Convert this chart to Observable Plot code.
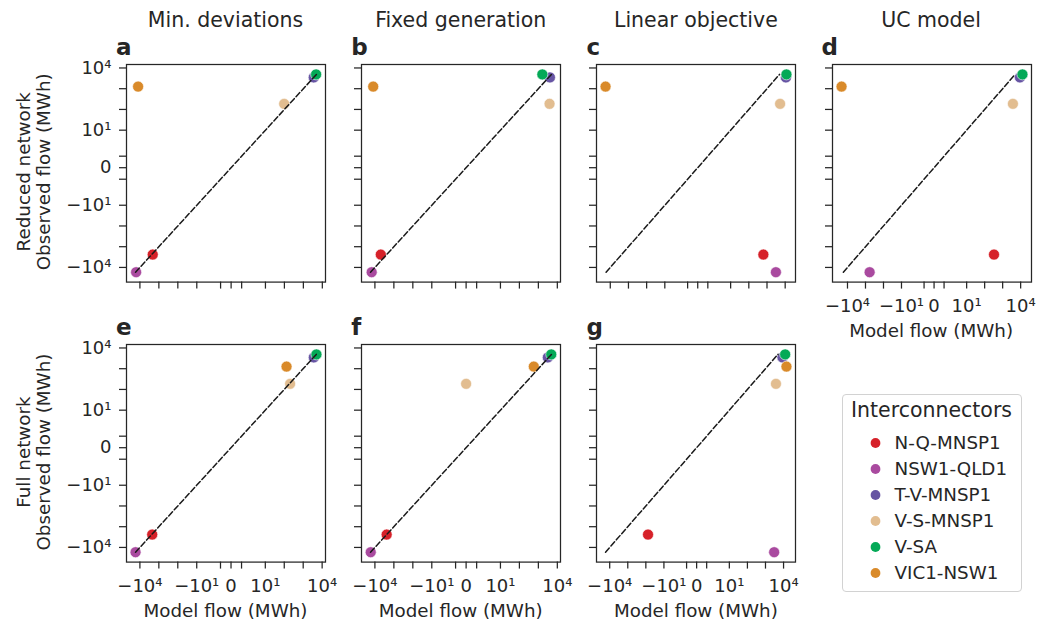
<!DOCTYPE html>
<html>
<head>
<meta charset="utf-8">
<script src="https://cdn.jsdelivr.net/npm/d3@7"></script>
<script src="https://cdn.jsdelivr.net/npm/@observablehq/plot@0.6"></script>
<style>
  body { margin: 0; background: #fff; }
  #root { position: relative; width: 1046px; height: 627px; overflow: hidden; font-family: "DejaVu Sans", sans-serif; color: #262626; background: #fff; }
  .panel { position: absolute; }
  .panel svg { max-width: none !important; }
  #root g[aria-label^="x-axis"] line, #root g[aria-label^="x-axis"] path,
  #root g[aria-label^="y-axis"] line, #root g[aria-label^="y-axis"] path { stroke-width: 1.25px; }
  #legendBox { position: absolute; box-sizing: border-box; border: 1.5px solid #d2d2d2; border-radius: 4px; background: #fff; }
</style>
</head>
<body>
<div id="root"></div>
<script>
// ---------------- data ----------------
const interconnectors = ["N-Q-MNSP1", "NSW1-QLD1", "T-V-MNSP1", "V-S-MNSP1", "V-SA", "VIC1-NSW1"];
const colors = ["#d62129", "#a94a9f", "#6654a3", "#e2bd90", "#04a957", "#d98a2a"];

// observed flow (MWh), same for every panel
const observedFlow = [-2400, -16980, 3510, 186, 4900, 1260];

// model flow (MWh) per panel
const modelMinDevReduced   = [-2110, -15850, 3520, 97, 4710, -12450];   // a
const modelFixedGenReduced = [-4900, -14790, 4070, 3890, 1620, -12300]; // b
const modelLinObjReduced   = [631, 3090, 10970, 5250, 11750, -18200];   // c
const modelUCReduced       = [331, -589, 9120, 3716, 12590, -21380];    // d
const modelMinDevFull      = [-2240, -16980, 3630, 204, 5010, 132];     // e
const modelFixedGenFull    = [-2400, -16600, 3160, 0, 4790, 575];       // f
const modelLinObjFull      = [-75.8, 3020, 8710, 3800, 12300, 14460];   // g

const columnTitles = ["Min. deviations", "Fixed generation", "Linear objective", "UC model"];
const rowLabels = ["Reduced network", "Full network"];
const panelLetters = ["a", "b", "c", "d", "e", "f", "g"];
const tickValues = [-1e4, -1e3, -1e2, -1e1, -1, 0, 1, 1e1, 1e2, 1e3, 1e4];
const tickLabels = ["−10⁴", "", "", "−10¹", "", "0", "", "10¹", "", "", "10⁴"];

// ---------------- layout ----------------
const FW = 199, FH = 217.6;
const colLefts = [126, 361.2, 596.4, 831.6];
const rowTops = [64, 344.3];
const ML = 70, MR = 12, MT = 12, MB = 60;

const panels = [
  {model: modelMinDevReduced,   row: 0, col: 0, xLabels: false},
  {model: modelFixedGenReduced, row: 0, col: 1, xLabels: false},
  {model: modelLinObjReduced,   row: 0, col: 2, xLabels: false},
  {model: modelUCReduced,       row: 0, col: 3, xLabels: true},
  {model: modelMinDevFull,      row: 1, col: 0, xLabels: true},
  {model: modelFixedGenFull,    row: 1, col: 1, xLabels: true},
  {model: modelLinObjFull,      row: 1, col: 2, xLabels: true}
];

// symmetric log transform (linthresh 2, linscale 1)
const LT = 2, LS = 1 / (1 - 1 / 10);
function T(v) {
  const a = Math.abs(v);
  return a <= LT ? v * LS / LT : Math.sign(v) * (LS + Math.log10(a / LT));
}
const tickT = tickValues.map(T);
const labelFor = (t) => {
  const i = tickT.findIndex(v => Math.abs(v - t) < 1e-6);
  return i >= 0 ? tickLabels[i] : "";
};
const pad = ([a, b]) => { const p = 0.05 * (b - a); return [a - p, b + p]; };

const lo = d3.min(observedFlow), hi = d3.max(observedFlow);
const yDomain = pad([T(lo), T(hi)]);

const root = document.getElementById("root");

panels.forEach((p, k) => {
  const rows = interconnectors.map((name, i) => ({name, model: p.model[i], observed: observedFlow[i]}));
  const xs = p.model.map(T).concat([T(lo), T(hi)]);
  const xDomain = pad([d3.min(xs), d3.max(xs)]);
  const chart = Plot.plot({
    width: FW + ML + MR,
    height: FH + MT + MB,
    marginLeft: ML, marginRight: MR, marginTop: MT, marginBottom: MB,
    style: {fontFamily: "DejaVu Sans", fontSize: "18px", color: "#262626", background: "transparent", overflow: "visible"},
    x: {type: "linear", domain: xDomain, ticks: tickT, tickSize: 7, tickPadding: 10,
        tickFormat: p.xLabels ? labelFor : () => "", label: null},
    y: {type: "linear", domain: yDomain, ticks: tickT, tickSize: 7, tickPadding: 8,
        tickFormat: p.col === 0 ? labelFor : () => "", label: null},
    color: {domain: interconnectors, range: colors},
    marks: [
      Plot.dot(rows, {x: d => T(d.model), y: d => T(d.observed), fill: d => d.name, r: 5.5, stroke: "white", strokeWidth: 0.6}),
      Plot.line([lo, hi], {x: d => T(d), y: d => T(d), stroke: "#1a1a1a", strokeWidth: 1.5, strokeDasharray: "5.6,2.6"}),
      Plot.frame({stroke: "#262626", strokeWidth: 1.25})
    ]
  });
  const div = document.createElement("div");
  div.className = "panel";
  div.style.left = (colLefts[p.col] - ML) + "px";
  div.style.top = (rowTops[p.row] - MT) + "px";
  div.style.width = (FW + ML + MR) + "px";
  div.appendChild(chart);
  root.appendChild(div);
});

// ---------------- legend ----------------
const legendBox = document.createElement("div");
legendBox.id = "legendBox";
legendBox.style.left = "842px"; legendBox.style.top = "393.5px";
legendBox.style.width = "180px"; legendBox.style.height = "198px";
root.appendChild(legendBox);

const legendPlot = Plot.plot({
  width: 179, height: 161.2,
  margin: 0,
  style: {fontFamily: "DejaVu Sans", fontSize: "18.3px", color: "#262626", background: "transparent", overflow: "visible"},
  y: {type: "band", domain: interconnectors, axis: null},
  color: {domain: interconnectors, range: colors},
  marks: [
    Plot.dot(interconnectors, {y: d => d, fill: d => d, r: 4.9, frameAnchor: "left", dx: 33}),
    Plot.text(interconnectors, {y: d => d, text: d => d, frameAnchor: "left", dx: 52, textAnchor: "start", fill: "#262626"})
  ]
});
const lg = document.createElement("div");
lg.className = "panel";
lg.style.left = "842px"; lg.style.top = "426.5px"; lg.style.width = "179px";
lg.appendChild(legendPlot);
root.appendChild(lg);

// ---------------- text overlay ----------------
const ns = "http://www.w3.org/2000/svg";
const ov = document.createElementNS(ns, "svg");
ov.setAttribute("width", 1046); ov.setAttribute("height", 627);
ov.style.position = "absolute"; ov.style.left = "0"; ov.style.top = "0"; ov.style.pointerEvents = "none";
ov.setAttribute("font-family", "DejaVu Sans");
ov.setAttribute("fill", "#262626");
root.appendChild(ov);
function addText(x, y, str, attrs = {}) {
  const t = document.createElementNS(ns, "text");
  t.setAttribute("x", x); t.setAttribute("y", y);
  for (const [k, v] of Object.entries(attrs)) t.setAttribute(k, v);
  t.textContent = str;
  ov.appendChild(t);
  return t;
}
columnTitles.forEach((s, c) => addText(colLefts[c] + FW / 2, 26.5, s, {"font-size": 20.5, "text-anchor": "middle"}));
panels.forEach((p, k) => {
  addText(colLefts[p.col] - 10, rowTops[p.row] - 9.5, panelLetters[k], {"font-size": 23, "font-weight": "bold"});
  if (p.xLabels) addText(colLefts[p.col] + FW / 2, rowTops[p.row] + FH + 55.5, "Model flow (MWh)", {"font-size": 18.3, "text-anchor": "middle"});
});
rowLabels.forEach((s, r) => {
  const cy = rowTops[r] + FH / 2 - 1;
  addText(0, 0, s, {"font-size": 18.3, "text-anchor": "middle", transform: `translate(29.5,${cy}) rotate(-90)`});
  addText(0, 0, "Observed flow (MWh)", {"font-size": 18.3, "text-anchor": "middle", transform: `translate(49.5,${cy}) rotate(-90)`});
});
addText(931.5, 416.5, "Interconnectors", {"font-size": 20.5, "text-anchor": "middle"});
</script>
</body>
</html>
